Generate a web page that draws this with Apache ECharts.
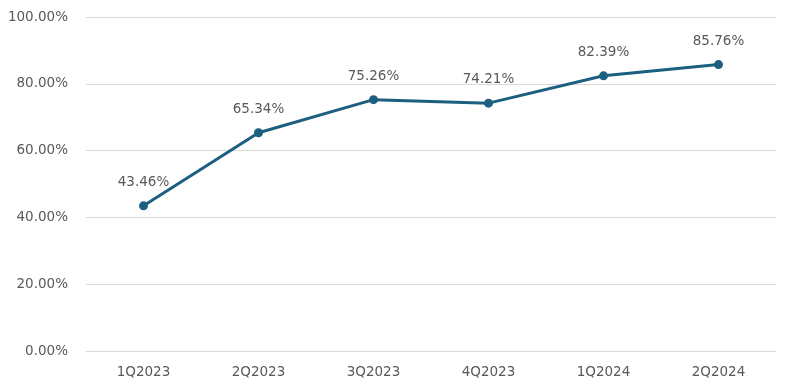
<!DOCTYPE html>
<html>
<head>
<meta charset="utf-8">
<script src="https://cdn.jsdelivr.net/npm/echarts@6/dist/echarts.min.js"></script>
<style>html,body{margin:0;padding:0;background:#fff}#c{width:788px;height:392px}</style>
</head>
<body>
<div id="c"></div>
<script>
const categories = ['1Q2023','2Q2023','3Q2023','4Q2023','1Q2024','2Q2024'];
const values = [43.46, 65.34, 75.26, 74.21, 82.39, 85.76];
const yTicks = [0, 20, 40, 60, 80, 100];

const chart = echarts.init(document.getElementById('c'), null, {renderer:'canvas'});
const font = 'DejaVu Sans';
chart.setOption({
  animation: false,
  backgroundColor: '#ffffff',
  grid: {left: 86, right: 12, top: 17, bottom: 41, containLabel: false},
  xAxis: {
    type: 'category',
    data: categories,
    boundaryGap: true,
    axisLine: {show: true, lineStyle: {color: '#d9d9d9', width: 1}},
    axisTick: {show: false},
    axisLabel: {color: '#595959', fontSize: 13.5, fontFamily: font, margin: 14}
  },
  yAxis: {
    type: 'value',
    min: yTicks[0],
    max: yTicks[yTicks.length-1],
    interval: 20,
    axisLine: {show: false},
    axisTick: {show: false},
    splitLine: {lineStyle: {color: '#d9d9d9', width: 1}},
    axisLabel: {color: '#595959', fontSize: 13.5, fontFamily: font, margin: 18,
      formatter: v => v.toFixed(2) + '%'}
  },
  series: [{
    type: 'line',
    data: values,
    symbol: 'circle',
    symbolSize: 9,
    lineStyle: {color: '#1d5f80', width: 3},
    itemStyle: {color: '#1d5f80'},
    label: {show: true, position: 'top', distance: 12, color: '#595959', fontSize: 13.5, fontFamily: font,
      formatter: p => p.value.toFixed(2) + '%'}
  }]
});
</script>
</body>
</html>
